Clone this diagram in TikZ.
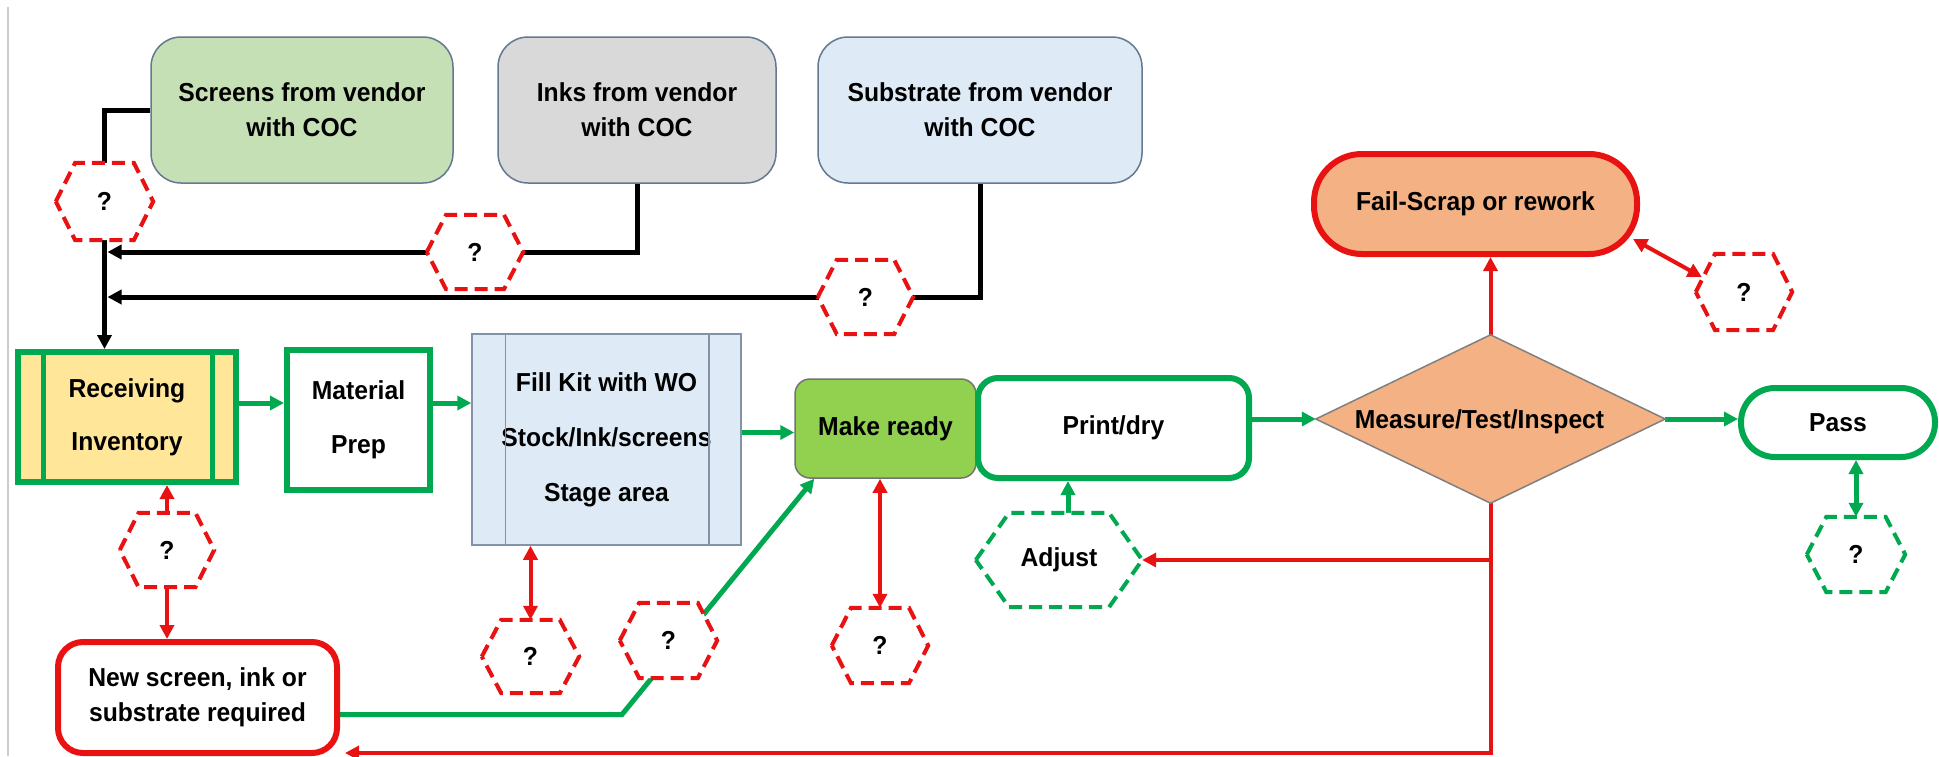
\documentclass[tikz,border=0pt]{standalone}
\usepackage{fontspec}
\setmainfont{Liberation Sans}[FakeStretch=0.95]
\usetikzlibrary{arrows.meta}

\definecolor{flowgreen}{RGB}{0,168,80}
\definecolor{flowred}{RGB}{232,18,18}
\definecolor{scrfill}{RGB}{197,224,180}
\definecolor{inkfill}{RGB}{217,217,217}
\definecolor{subfill}{RGB}{222,235,247}
\definecolor{boxedge}{RGB}{100,120,145}
\definecolor{recvfill}{RGB}{255,230,153}
\definecolor{readyfill}{RGB}{146,208,80}
\definecolor{peach}{RGB}{244,177,131}

\pgfdeclarelayer{paper}
\pgfdeclarelayer{links}
\pgfdeclarelayer{hexes}
\pgfsetlayers{paper,links,hexes,main}

% dashed hexagonal check point: name, x, y, width, height, colour, text
\newcommand\askhex[7]{%
  \node[hexnode, minimum width=#4pt, minimum height=#5pt] (#1) at (#2,#3) {#7};
  \begin{pgfonlayer}{hexes}
    \draw[hexline, draw=#6] (#1.west) -- ([xshift=0.2*#4pt]#1.north west)
      -- ([xshift=-0.2*#4pt]#1.north east) -- (#1.east)
      -- ([xshift=-0.2*#4pt]#1.south east) -- ([xshift=0.2*#4pt]#1.south west) -- cycle;
  \end{pgfonlayer}}

\begin{document}
\begin{tikzpicture}[x=1pt, y=-1pt,
  base/.style={font=\fontsize{26}{35}\selectfont\bfseries, align=center, inner sep=0pt, text=black},
  vendor/.style={base, draw=boxedge, line width=1.5pt, rounded corners=30pt, minimum height=146pt},
  gbox/.style={base, draw=flowgreen, line width=6pt, fill=white},
  hexnode/.style={base, draw=none},
  hexline/.style={line width=4pt, dash pattern=on 13pt off 7pt, fill=white},
  blackline/.style={draw=black, line width=5pt},
  greenline/.style={draw=flowgreen, line width=5pt},
  redline/.style={draw=flowred, line width=4pt},
  tip/.style={-{Triangle[length=14pt,width=14pt]}},
  both/.style={{Triangle[length=14pt,width=14pt]}-{Triangle[length=14pt,width=14pt]}}]
\useasboundingbox (0,0) rectangle (1939,756);
\begin{pgfonlayer}{paper}
  \fill[white] (0,0) rectangle (1939,756);
  \draw[black!20, line width=1.5pt] (8,7) -- (8,756);
\end{pgfonlayer}

% suppliers
\node[vendor, fill=scrfill, minimum width=302pt] (screens) at (302,110) {Screens from vendor\\with COC};
\node[vendor, fill=inkfill, minimum width=278pt] (inks) at (637,110) {Inks from vendor\\with COC};
\node[vendor, fill=subfill, minimum width=324pt] (subs) at (980,110) {Substrate from vendor\\with COC};

% main process line
\node[gbox, fill=recvfill, minimum width=218pt, minimum height=130pt] (recv) at (127,417) {Receiving\\[18pt]Inventory};
\draw[flowgreen, line width=5pt] ([xshift=28pt]recv.north west) -- ([xshift=28pt]recv.south west);
\draw[flowgreen, line width=5pt] ([xshift=-27pt]recv.north east) -- ([xshift=-27pt]recv.south east);
\node[gbox, minimum width=143pt, minimum height=140pt] (mat) at (358.5,420) {Material\\[19pt]Prep};
\node[base, draw=boxedge!80, line width=1.5pt, fill=subfill, minimum width=269pt, minimum height=211pt] (fill) at (606.5,439.5) {Fill Kit with WO\\[20pt]Stock/Ink/screens\\[20pt]Stage area};
\draw[boxedge!80, line width=1.5pt] ([xshift=34pt]fill.north west) -- ([xshift=34pt]fill.south west);
\draw[boxedge!80, line width=1.5pt] ([xshift=-33pt]fill.north east) -- ([xshift=-33pt]fill.south east);
\node[base, draw=black!55, line width=1.5pt, fill=readyfill, rounded corners=15pt, minimum width=181pt, minimum height=99pt] (make) at (885.5,428.5) {Make ready};
\node[gbox, rounded corners=20pt, minimum width=271pt, minimum height=100pt] (print) at (1113.5,428) {Print/dry};
\node[draw=none, minimum width=349pt, minimum height=168pt, inner sep=0pt] (diam) at (1490.5,419) {};
\draw[black!50, line width=1.5pt, fill=peach] (diam.north) -- (diam.east) -- (diam.south) -- (diam.west) -- cycle;
\node[base] (diamtxt) at ([xshift=-11pt,yshift=-3pt]diam.center) {Measure/Test/Inspect};
\node[gbox, rounded corners=34pt, minimum width=194pt, minimum height=69pt] (pass) at (1838,422.5) {Pass};
\node[base, draw=flowred, line width=6pt, fill=peach, rounded corners=48pt, minimum width=323pt, minimum height=100pt] (fail) at (1475.5,204) {Fail-Scrap or rework};
\node[base, draw=flowred, line width=6pt, fill=white, rounded corners=25pt, minimum width=279pt, minimum height=111pt] (new) at (197.5,697.5) {New screen, ink or\\substrate required};

% check points
\askhex{q1}{104.5}{201.5}{97}{77}{flowred}{?}
\askhex{q2}{475}{252}{96}{74}{flowred}{?}
\askhex{q3}{865.5}{297}{95}{74}{flowred}{?}
\askhex{q4}{1744}{292}{96}{76}{flowred}{?}
\askhex{q5}{167}{550}{94}{74}{flowred}{?}
\askhex{q6}{530.5}{656.5}{97}{73}{flowred}{?}
\askhex{q7}{668.5}{640.5}{97}{75}{flowred}{?}
\askhex{q9}{880}{645.5}{96}{75}{flowred}{?}
\askhex{q8}{1856}{554.5}{98}{75}{flowgreen}{?}
\askhex{adj}{1059}{560}{166}{94}{flowgreen}{Adjust}

\coordinate (bend) at (622,715);
\coordinate (ret) at ([xshift=5pt,yshift=3pt]new.south east);

\begin{pgfonlayer}{links}
  % supplier feeds into receiving
  \draw[blackline, tip] (screens.west) -| (q1.center |- recv.north);
  \draw[blackline, tip] (inks.south) |- ([xshift=3pt]q1.center |- q2.center);
  \draw[blackline, tip] (subs.south) |- ([xshift=3pt]q1.center |- q3.center);
  % process flow
  \draw[greenline, tip] ([yshift=14pt]recv.east) coordinate (r1) -- (mat.west |- r1);
  \draw[greenline, tip] ([yshift=17pt]mat.east) coordinate (m1) -- (fill.west |- m1);
  \draw[greenline, tip] ([yshift=7pt]fill.east) coordinate (f1) -- (make.west |- f1);
  \draw[greenline, tip] (print.east |- diam.west) -- (diam.west);
  \draw[greenline, tip] (diam.east) -- (pass.west |- diam.east);
  \draw[greenline, tip] ([xshift=9pt]adj.north) coordinate (a1) -- (a1 |- print.south);
  % rejects and returns
  \draw[redline, tip] (diam.north) -- (diam.north |- fail.south);
  \draw[redline, tip] (diam.south) |- (ret);
  \draw[redline, tip] (diam.south |- adj.east) -- (adj.east);
  % check point links
  \draw[redline, both] ([xshift=-7pt,yshift=18pt]fail.south east) -- ([xshift=6pt,yshift=15pt]q4.west);
  \draw[redline, tip] (q5.north) -- (q5.north |- recv.south);
  \draw[redline, tip] (q5.south) -- (q5.south |- new.north);
  \draw[redline, both] (q6.north) -- (q6.north |- fill.south);
  \draw[redline, both] (q9.north) -- (q9.north |- make.south);
  \draw[greenline, both] (q8.north) -- (q8.north |- pass.south);
  % new material route to make ready
  \draw[greenline, tip] ([yshift=-17pt]new.east) coordinate (n1) -- (bend |- n1) -- ([xshift=20pt]make.south west);
\end{pgfonlayer}
\end{tikzpicture}
\end{document}
